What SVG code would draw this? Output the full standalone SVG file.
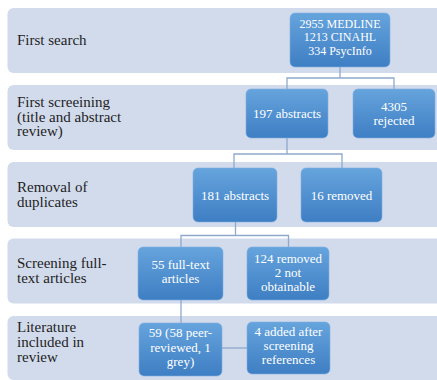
<svg xmlns="http://www.w3.org/2000/svg" width="437" height="380" viewBox="0 0 437 380">
<defs>
<linearGradient id="bg" x1="0" y1="0" x2="0" y2="1">
<stop offset="0" stop-color="#66a4dd"/>
<stop offset="1" stop-color="#3e7ec3"/>
</linearGradient>
<style>
.band{fill:#d2dbec;}
.lbl{font-size:15px;fill:#1e1e1e;}
.box{fill:url(#bg);stroke:#7fb0e0;stroke-width:0.6;}
.bt{font-size:13px;fill:#ffffff;text-anchor:middle;}
.bt1{font-size:12px;}
.conn{fill:none;stroke:#8fa9cc;stroke-width:1.3;}
</style>
</defs>
<rect width="437" height="380" fill="#ffffff"/>
<g font-family="Liberation Serif, DejaVu Serif, serif">
<g id="stages">
<g id="stage1"><rect class="band" x="7.5" y="8" width="440" height="65" rx="6"/><text class="lbl" x="17" y="45">First search</text></g>
<g id="stage2"><rect class="band" x="7.5" y="85" width="440" height="65" rx="6"/><text class="lbl" x="17" y="106.5">First screeining</text><text class="lbl" x="17" y="121.5">(title and abstract</text><text class="lbl" x="17" y="136">review)</text></g>
<g id="stage3"><rect class="band" x="7.5" y="162" width="440" height="65" rx="6"/><text class="lbl" x="17" y="192">Removal of</text><text class="lbl" x="17" y="206.5">duplicates</text></g>
<g id="stage4"><rect class="band" x="7.5" y="238.5" width="440" height="65" rx="6"/><text class="lbl" x="17" y="268">Screening full-</text><text class="lbl" x="17" y="283">text articles</text></g>
<g id="stage5"><rect class="band" x="7.5" y="316" width="440" height="64" rx="6"/><text class="lbl" x="17" y="332">Literature</text><text class="lbl" x="17" y="347">included in</text><text class="lbl" x="17" y="361.5">review</text></g>
</g>
<g id="connectors">
<path class="conn" d="M340 67 V78 M287 89 V78 H394 V89"/>
<path class="conn" d="M287 138 V154 M234 168 V154 H342 V168"/>
<path class="conn" d="M235.5 222 V235.5 M181 247 V235.5 H288.5 V247"/>
<path class="conn" d="M181 300 V323"/>
<path class="conn" d="M222 348 H247"/>
</g>
<g id="n1"><rect class="box" x="290" y="13" width="100" height="54" rx="5"/><text class="bt bt1" x="340" y="27.5">2955 MEDLINE</text><text class="bt bt1" x="340" y="41">1213 CINAHL</text><text class="bt bt1" x="340" y="54.5">334 PsycInfo</text></g>
<g id="n2"><rect class="box" x="246" y="89" width="82" height="49" rx="5"/><text class="bt" x="287" y="118">197 abstracts</text></g>
<g id="n3"><rect class="box" x="353" y="89" width="82" height="49" rx="5"/><text class="bt" x="394" y="111">4305</text><text class="bt" x="394" y="125">rejected</text></g>
<g id="n4"><rect class="box" x="193" y="168" width="84" height="54" rx="5"/><text class="bt" x="235" y="199.5">181 abstracts</text></g>
<g id="n5"><rect class="box" x="301" y="168" width="81" height="54" rx="5"/><text class="bt" x="341.5" y="199.5">16 removed</text></g>
<g id="n6"><rect class="box" x="138" y="247" width="85" height="53" rx="5"/><text class="bt" x="180.5" y="268.5">55 full-text</text><text class="bt" x="180.5" y="282.5">articles</text></g>
<g id="n7"><rect class="box" x="247" y="247" width="82" height="53" rx="5"/><text class="bt" x="288" y="263">124 removed</text><text class="bt" x="288" y="277">2 not</text><text class="bt" x="288" y="291">obtainable</text></g>
<g id="n8"><rect class="box" x="139" y="323" width="83" height="53" rx="5"/><text class="bt" x="180.5" y="337">59 (58 peer-</text><text class="bt" x="180.5" y="351.5">reviewed, 1</text><text class="bt" x="180.5" y="366">grey)</text></g>
<g id="n9"><rect class="box" x="247" y="322" width="83" height="52" rx="5"/><text class="bt" x="288.5" y="335.5">4 added after</text><text class="bt" x="288.5" y="349.5">screening</text><text class="bt" x="288.5" y="363.5">references</text></g>
</g>
</svg>
